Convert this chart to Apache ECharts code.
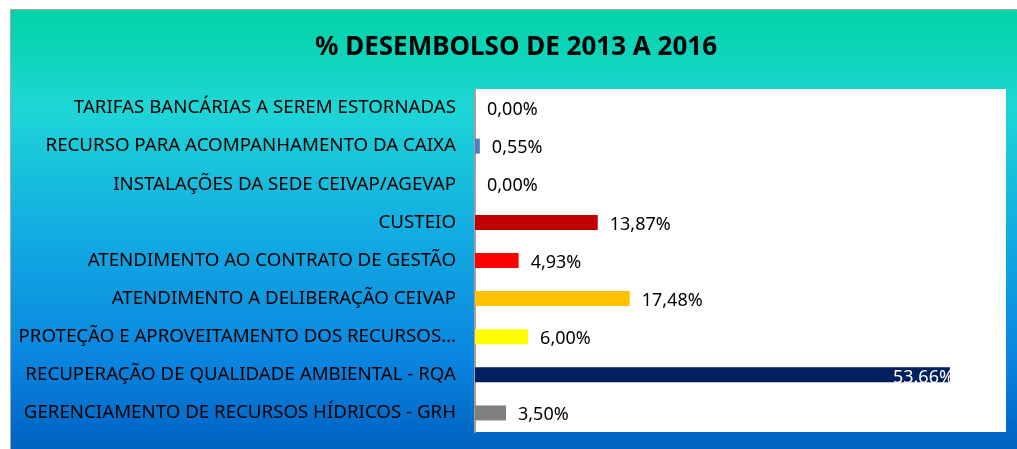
<!DOCTYPE html>
<html>
<head>
<meta charset="utf-8">
<script src="https://cdn.jsdelivr.net/npm/echarts@6/dist/echarts.min.js"></script>
<style>
  html, body { margin: 0; padding: 0; background: #fff; overflow: hidden; }
  #chart {
    position: absolute;
    left: 10px;
    top: 9px;
    width: 1010px;
    height: 445px;
    border-left: 1px solid #a6a6a6;
    border-top: 1px solid #a6a6a6;
  }
</style>
</head>
<body>
<div id="chart"></div>
<script>
// categories from top to bottom
var categories = [
  "TARIFAS BANCÁRIAS A SEREM ESTORNADAS",
  "RECURSO PARA ACOMPANHAMENTO DA CAIXA",
  "INSTALAÇÕES DA SEDE CEIVAP/AGEVAP",
  "CUSTEIO",
  "ATENDIMENTO AO CONTRATO DE GESTÃO",
  "ATENDIMENTO A DELIBERAÇÃO CEIVAP",
  "PROTEÇÃO E APROVEITAMENTO DOS RECURSOS…",
  "RECUPERAÇÃO DE QUALIDADE AMBIENTAL - RQA",
  "GERENCIAMENTO DE RECURSOS HÍDRICOS - GRH"
];
var values = [0, 0.55, 0, 13.87, 4.93, 17.48, 6.00, 53.66, 3.50];
var valueLabels = ["0,00%", "0,55%", "0,00%", "13,87%", "4,93%", "17,48%", "6,00%", "53.66%", "3,50%"];
var barColors = ["#4f81bd", "#4f81bd", "#4f81bd", "#c00000", "#ff0000", "#ffc000", "#ffff00", "#002060", "#808080"];

var font = "'Noto Sans', sans-serif";

var seriesData = values.map(function (v, i) {
  var item = { value: v, itemStyle: { color: barColors[i] } };
  if (v > 40) {
    // the big bar carries its label inside, in white
    item.label = { position: "insideRight", color: "#fff", offset: [4, 3], distance: 0 };
  }
  return item;
});

var myChart = echarts.init(document.getElementById("chart"));
myChart.setOption({
  backgroundColor: new echarts.graphic.LinearGradient(0, 0, 0, 1, [
    { offset: 0, color: "#00d3a6" },
    { offset: 0.22, color: "#1ed6d6" },
    { offset: 0.5, color: "#12ace2" },
    { offset: 0.78, color: "#0a86e0" },
    { offset: 1, color: "#0060c0" }
  ]),
  animation: false,
  title: {
    text: "% DESEMBOLSO DE 2013 A 2016",
    left: "center",
    top: 20,
    textStyle: { fontFamily: font, fontSize: 26, fontWeight: "bold", color: "#000" }
  },
  grid: {
    left: 464,
    top: 79,
    width: 531,
    height: 343,
    outerBoundsMode: "none",
    containLabel: false,
    show: true,
    backgroundColor: "#fff",
    borderWidth: 0
  },
  xAxis: {
    type: "value",
    min: 0,
    max: 60,
    show: false
  },
  yAxis: {
    type: "category",
    inverse: true,
    data: categories,
    axisLine: { show: true, lineStyle: { color: "#a0a0a0", width: 2 } },
    axisTick: { show: false },
    axisLabel: { fontFamily: font, fontSize: 18.7, color: "#000", margin: 19, padding: [5, 0, 0, 0] }
  },
  series: [
    {
      type: "bar",
      barWidth: 15,
      data: seriesData,
      label: {
        show: true,
        position: "right",
        distance: 12,
        offset: [0, 2],
        fontFamily: font,
        fontSize: 18,
        color: "#000",
        formatter: function (p) { return valueLabels[p.dataIndex]; }
      }
    }
  ]
});
</script>
</body>
</html>
